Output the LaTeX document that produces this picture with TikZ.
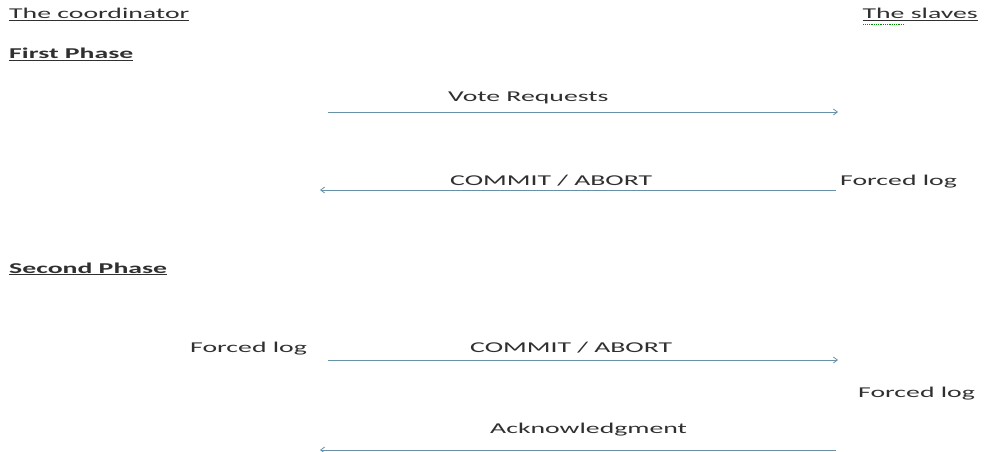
\documentclass[tikz,border=0pt]{standalone}
\usepackage{fontspec}
\setmainfont[FakeStretch=1.85]{Carlito}
\usepackage{xcolor}
\usetikzlibrary{arrows.meta, calc, positioning}

\definecolor{msgline}{RGB}{104,144,166}
\definecolor{msgtext}{RGB}{48,48,48}

\tikzset{
    lbl/.style={inner sep=0pt, text=msgtext, font=\fontsize{15}{18}\selectfont},
    head/.style={lbl, font=\fontsize{15}{18}\selectfont\bfseries},
    msg/.style={draw=msgline, line width=0.8pt, -{Straight Barb[length=4pt, width=6pt]}}
}

\begin{document}
\begin{tikzpicture}[x=1pt, y=-1pt]
    \useasboundingbox[fill=white] (0, 0) rectangle (986, 452);

    % the two sides
    \node[lbl, anchor=base west] (coord) at (9, 19) {\underline{The coordinator}};
    \node[lbl, anchor=base east] (slaves) at (978, 19) {\underline{The slaves}};
    \draw[green!55!black, densely dotted, line width=0.8pt]
        ($(slaves.base west) + (1, 5)$) -- ++(40, 0);

    % first phase
    \node[head, anchor=base west] (ph1) at (9, 59) {\underline{First Phase}};

    \coordinate (a1l) at (328, 112);
    \coordinate (a1r) at (838, 112);
    \node[lbl, anchor=base west] (vote) at (448, 102) {Vote Requests};
    \draw[msg] (a1l) -- (a1r);

    \coordinate (a2l) at (320, 190);
    \coordinate (a2r) at (836, 190);
    \node[lbl, anchor=base west] (ca1) at (450, 185) {COMMIT / ABORT};
    \node[lbl, anchor=base west] (flog1) at (840, 185) {Forced log};
    \draw[msg] (a2r) -- (a2l);

    % second phase
    \node[head, anchor=base west] (ph2) at (9, 273) {\underline{Second Phase}};

    \coordinate (a3l) at (328, 360);
    \coordinate (a3r) at (838, 360);
    \node[lbl, anchor=base west] (flog2) at (190, 352) {Forced log};
    \node[lbl, anchor=base west] (ca2) at (470, 352) {COMMIT / ABORT};
    \draw[msg] (a3l) -- (a3r);

    \node[lbl, anchor=base west] (flog3) at (858, 397) {Forced log};

    \coordinate (a4l) at (320, 450);
    \coordinate (a4r) at (836, 450);
    \node[lbl, anchor=base west] (ack) at (490, 433) {Acknowledgment};
    \draw[msg] (a4r) -- (a4l);
\end{tikzpicture}
\end{document}
